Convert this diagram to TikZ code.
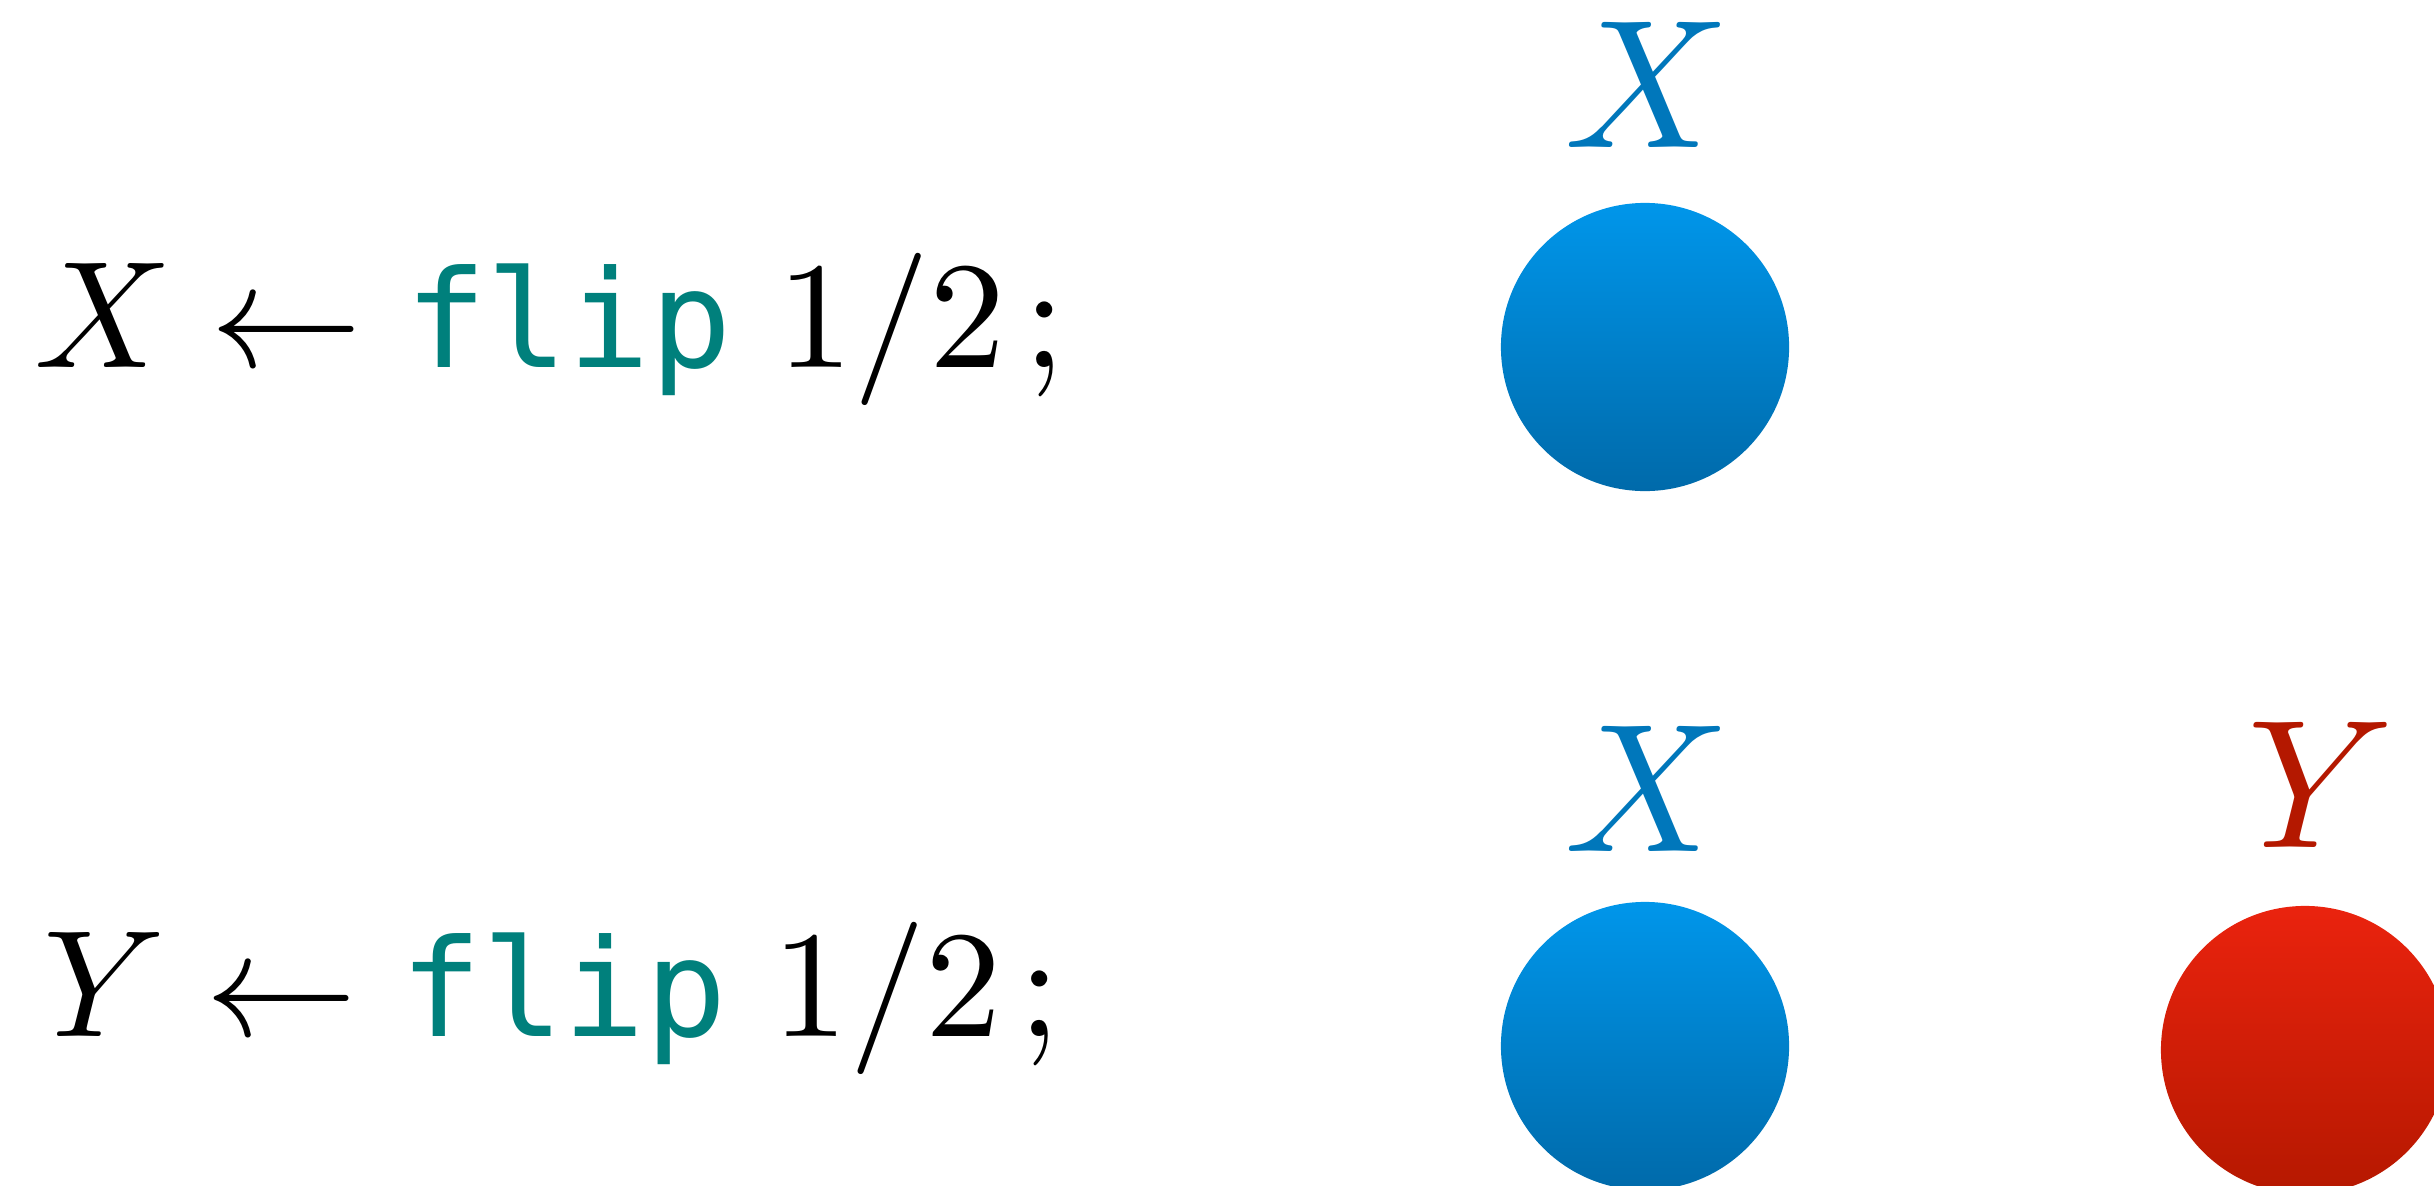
\documentclass[tikz,border=0pt]{standalone}
\usepackage{fontspec}
\usepackage{unicode-math}
\setmathfont{Latin Modern Math}
\newfontfamily\codefont{DejaVu Sans Mono}[Scale=0.89]
\usetikzlibrary{positioning, shadings}

\definecolor{xblue}{RGB}{0,119,187}
\definecolor{xbluetop}{RGB}{0,150,234}
\definecolor{xbluebot}{RGB}{0,106,170}
\definecolor{yred}{RGB}{180,24,0}
\definecolor{yredtop}{RGB}{234,35,14}
\definecolor{yredbot}{RGB}{181,24,0}
\definecolor{flipteal}{RGB}{0,128,124}

\newcommand{\flipline}[1]{$#1 \leftarrow \mbox{\textcolor{flipteal}{\codefont flip}}\ 1/2\mskip2mu;$}

\begin{document}
\begin{tikzpicture}[x=0.01cm, y=-0.01cm,
    coin/.style={circle, minimum size=2.88cm, inner sep=0pt},
    bluecoin/.style={coin, top color=xbluetop, bottom color=xbluebot},
    redcoin/.style={coin, top color=yredtop, bottom color=yredbot},
    varname/.style={anchor=base, inner sep=0pt, font=\fontsize{52.1}{60}\selectfont},
    stmt/.style={anchor=base, inner sep=0pt, font=\fontsize{43.3}{50}\selectfont}]
\path[use as bounding box, clip] (0,0) rectangle (2434,1185);

% first line: X only
\node[stmt] (flipx) at (550,367) {\flipline{X}};
\node[bluecoin] (coinx) at (1645,347) {};
\node[varname, xblue] (namex) at (1645,147) {$X$};

% second line: X and Y
\node[stmt] (flipy) at (552,1036) {\flipline{Y}};
\node[bluecoin] (coinxx) at (1645,1046) {};
\node[varname, xblue] (namexx) at (1645,851) {$X$};
\node[redcoin] (coiny) at (2305,1050) {};
\node[varname, yred] (namey) at (2320,847) {$Y$};
\end{tikzpicture}
\end{document}
